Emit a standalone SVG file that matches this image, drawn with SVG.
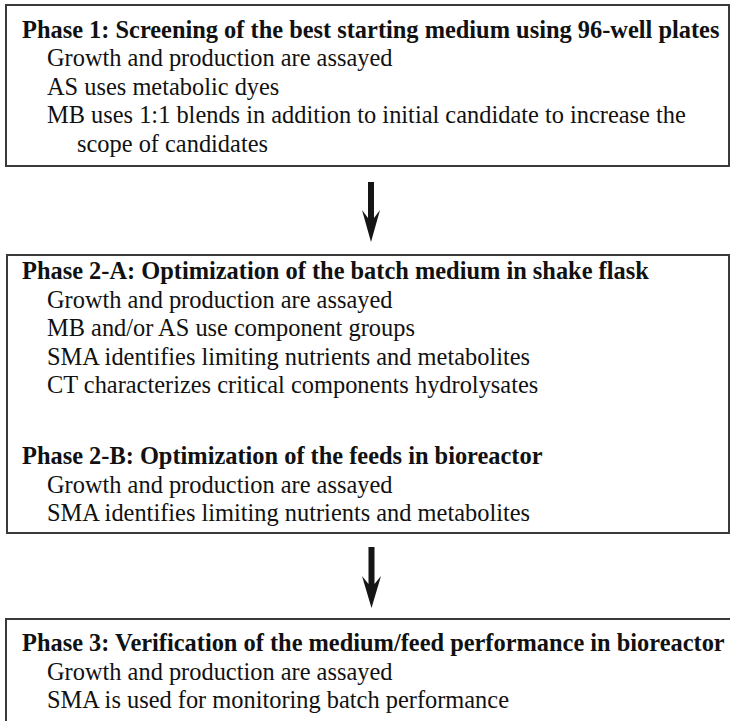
<svg xmlns="http://www.w3.org/2000/svg" width="730" height="721" viewBox="0 0 730 721">
<style>
.box{fill:#fff;stroke:#3a3a3a;stroke-width:2}
.h{font-family:"Liberation Serif","Times New Roman",serif;font-size:24.4px;font-weight:bold;fill:#111}
.t{font-family:"Liberation Serif","Times New Roman",serif;font-size:24.4px;fill:#111}
.arr{fill:#151515;stroke:none}
</style>
<rect width="730" height="721" fill="#fff"/>
<g id="phase1">
<rect class="box" x="6" y="5" width="723" height="161"/>
<text class="h" x="22" y="38">Phase 1: Screening of the best starting medium using 96-well plates</text>
<text class="t" x="47" y="66">Growth and production are assayed</text>
<text class="t" x="47" y="94.5">AS uses metabolic dyes</text>
<text class="t" x="47" y="123">MB uses 1:1 blends in addition to initial candidate to increase the</text>
<text class="t" x="77" y="151.5">scope of candidates</text>
</g>
<g id="phase2">
<rect class="box" x="7" y="255" width="722" height="278"/>
<text class="h" x="22" y="279">Phase 2-A: Optimization of the batch medium in shake flask</text>
<text class="t" x="47" y="307.5">Growth and production are assayed</text>
<text class="t" x="47" y="336">MB and/or AS use component groups</text>
<text class="t" x="47" y="364.5">SMA identifies limiting nutrients and metabolites</text>
<text class="t" x="47" y="393">CT characterizes critical components hydrolysates</text>
<text class="h" x="22" y="464">Phase 2-B: Optimization of the feeds in bioreactor</text>
<text class="t" x="47" y="492.5">Growth and production are assayed</text>
<text class="t" x="47" y="521">SMA identifies limiting nutrients and metabolites</text>
</g>
<g id="phase3">
<path class="box" d="M6,730 V619 H731" fill="none"/>
<text class="h" x="22" y="651">Phase 3: Verification of the medium/feed performance in bioreactor</text>
<text class="t" x="47" y="679.5">Growth and production are assayed</text>
<text class="t" x="47" y="708">SMA is used for monitoring batch performance</text>
</g>
<g id="connectors">
<path class="arr" d="M368,182 H374 V218 L380,210 L371,242 L362,210 L368,218 Z"/>
<path class="arr" d="M368.5,547 H374.5 V584 L381,576 L371.5,608 L362,576 L368.5,584 Z"/>
</g>
</svg>
